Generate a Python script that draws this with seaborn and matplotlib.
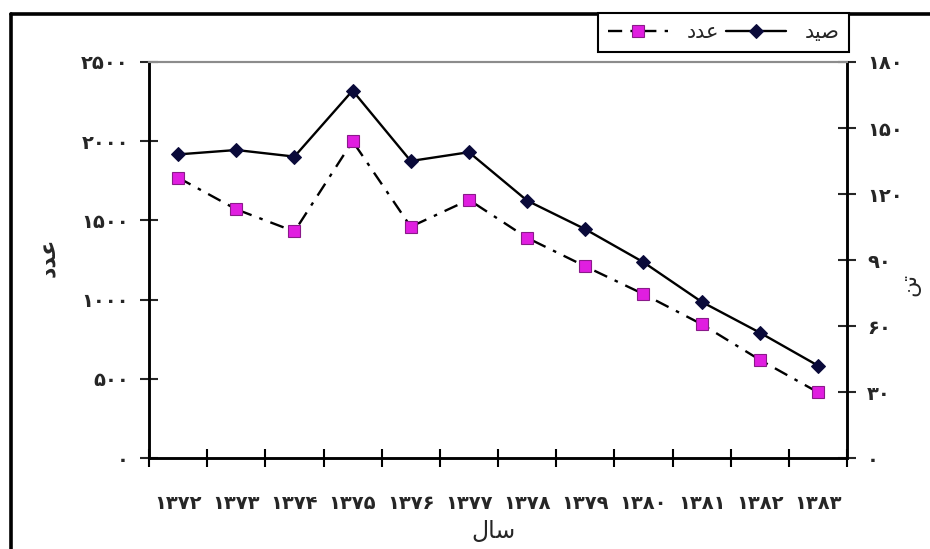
import numpy as np
import pandas as pd
import matplotlib
matplotlib.use("Agg")
import matplotlib.pyplot as plt
from matplotlib.lines import Line2D
from matplotlib.ticker import FixedLocator, FuncFormatter
import seaborn as sns

# Years (Persian calendar) and the two series
years = [1372, 1373, 1374, 1375, 1376, 1377, 1378, 1379, 1380, 1381, 1382, 1383]
count_values = [1770, 1570, 1430, 2000, 1460, 1630, 1390, 1210, 1035, 845, 620, 415]   # عدد (left axis)
catch_values = [138, 140, 137, 167, 135, 139, 117, 104, 89, 71, 57, 42]                # صید, tonnes (right axis)
left_ticks = [0, 500, 1000, 1500, 2000, 2500]
right_ticks = [0, 30, 60, 90, 120, 150, 180]

# Arabic-script labels written in shaped (presentation) forms, visual order
LBL_COUNT = "\uFEA9\uFEAA\uFECB"        # عدد
LBL_CATCH = "\uFEAA\uFEF4\uFEBB"        # صید
LBL_YEAR = "\uFEDD\uFE8E\uFEB3"         # سال
LBL_TON = "\uFEE6\uFE97"                # تن

FA_DIGITS = str.maketrans("0123456789", "۰۱۲۳۴۵۶۷۸۹")


def fa(n):
    return str(int(n)).translate(FA_DIGITS)


df = pd.DataFrame({
    "pos": np.arange(len(years)),
    "count": count_values,
    "catch": catch_values,
})

sns.set_style("white")
plt.rcParams["font.family"] = ["DejaVu Sans"]

W, H = 930, 549
fig = plt.figure(figsize=(W / 100, H / 100), dpi=100)
ax = fig.add_axes([149 / W, 1 - 458 / H, (847 - 149) / W, (458 - 62) / H])
ax2 = ax.twinx()

sns.lineplot(data=df, x="pos", y="count", ax=ax, color="black", lw=1.7,
             marker="s", markersize=9, markerfacecolor="#e01ee0",
             markeredgecolor="#8a1a8a", markeredgewidth=0.8,
             dashes=False, label=LBL_COUNT, legend=False)
ax.lines[0].set_dashes((6, 3.5, 1.5, 3.5))

sns.lineplot(data=df, x="pos", y="catch", ax=ax2, color="black", lw=1.7,
             marker="D", markersize=7, markerfacecolor="#0a0a3a",
             markeredgecolor="#0a0a3a", label=LBL_CATCH, legend=False)

ax.set_xlim(-0.5, len(years) - 0.5)
ax.set_ylim(0, 2500)
ax2.set_ylim(0, 180)

# category labels at centres, tick marks at category boundaries
ax.xaxis.set_major_locator(FixedLocator(df["pos"].tolist()))
ax.set_xticklabels([fa(y) for y in years], fontsize=14, fontweight="bold")
ax.xaxis.set_minor_locator(FixedLocator(list(np.arange(len(years) + 1) - 0.5)))
ax.tick_params(axis="x", which="major", length=0, pad=26)
ax.tick_params(axis="x", which="minor", direction="inout", length=13, width=1.5,
               color="black", bottom=True)

ax.set_yticks(left_ticks)
ax.yaxis.set_major_formatter(FuncFormatter(lambda v, p: fa(v)))
ax.tick_params(axis="y", direction="inout", length=13, width=1.5, labelsize=14, pad=8,
               left=True)
for t in ax.get_yticklabels():
    t.set_fontweight("bold")

ax2.set_yticks(right_ticks)
ax2.yaxis.set_major_formatter(FuncFormatter(lambda v, p: fa(v)))
ax2.tick_params(axis="y", direction="inout", length=13, width=1.5, labelsize=14, pad=8,
                right=True)
for t in ax2.get_yticklabels():
    t.set_fontweight("bold")

ax.set_xlabel("")
ax.set_ylabel("")
ax2.set_ylabel("")

for a in (ax, ax2):
    for side in ("left", "right", "bottom"):
        a.spines[side].set_color("black")
        a.spines[side].set_linewidth(1.8)
    a.spines["top"].set_color("#8c8c8c")
    a.spines["top"].set_linewidth(1.5)
ax.patch.set_alpha(0)

# axis titles
fig.text(493 / W, 1 - 531 / H, LBL_YEAR, fontsize=17, ha="center", va="center")
fig.text(49 / W, 1 - 257 / H, LBL_COUNT, fontsize=16, fontweight="bold", rotation=90,
         ha="center", va="center")
fig.text(910 / W, 1 - 284 / H, LBL_TON, fontsize=16, rotation=90, ha="center", va="center")

# chart frame (left and top edges)
fig.add_artist(Line2D([11 / W, 11 / W], [0, 1 - 14 / H], transform=fig.transFigure,
                      color="black", lw=2.6))
fig.add_artist(Line2D([11 / W, 1], [1 - 14 / H, 1 - 14 / H], transform=fig.transFigure,
                      color="black", lw=2.6))

handles = [ax.lines[0], ax2.lines[0]]
leg = fig.legend(handles, [LBL_COUNT, LBL_CATCH], ncol=2, loc="upper right",
                 bbox_to_anchor=(849 / W, 1 - 13 / H), frameon=True, fancybox=False,
                 edgecolor="black", fontsize=15, handlelength=2.9, handletextpad=0.9,
                 columnspacing=0.3, borderpad=0.45, borderaxespad=0)
leg.get_frame().set_linewidth(1.5)
leg.get_frame().set_facecolor("white")
leg.get_frame().set_alpha(1)

fig.savefig("out.png", dpi=100, facecolor="white")
